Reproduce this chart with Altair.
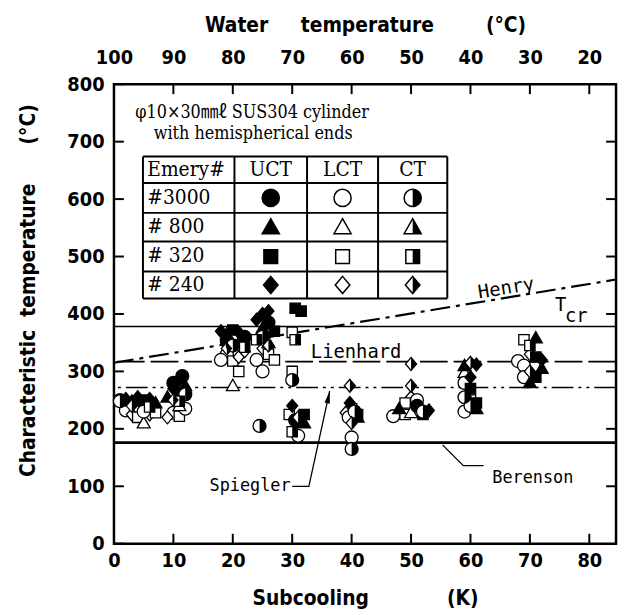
import altair as alt
import pandas as pd

# ---------------- data ----------------
# UCT (filled symbols)
uct_sc = [1, 2, 3, 4, 5, 6, 7, 10, 11, 10, 12, 11, 9, 11.5,
          18, 19, 20, 21, 22, 19, 21, 25, 26, 24, 26, 25, 27,
          30.5, 31.5, 30, 30.5, 32, 32, 39.7, 41, 41,
          48, 51, 52, 53, 59, 61, 60, 60, 61, 61,
          71, 71, 72, 70, 71, 72]
uct_t = [250, 252, 248, 255, 250, 252, 245, 280, 285, 270, 275, 262, 255, 292,
         370, 365, 372, 368, 360, 352, 350, 400, 405, 390, 385, 375, 370,
         410, 405, 240, 215, 210, 225, 245, 225, 220,
         235, 240, 225, 232, 310, 312, 290, 270, 245, 235,
         358, 325, 305, 280, 290, 320]
uct_em = ["3000", "240", "800", "240", "320", "240", "800", "3000", "240", "240", "800", "320", "800", "3000",
          "240", "800", "320", "240", "3000", "3000", "800", "240", "240", "240", "3000", "800", "320",
          "320", "320", "240", "3000", "800", "320", "240", "320", "800",
          "800", "3000", "320", "240", "800", "240", "240", "320", "320", "800",
          "800", "320", "800", "800", "320", "240"]

# LCT (open symbols)
lct_sc = [2, 3, 4, 5, 6, 5, 7, 10, 11, 12, 9, 11,
          19, 20, 20, 21, 18, 22, 21, 25, 24, 26, 25, 27, 26,
          30, 30, 29.5, 31, 40, 39, 39.5, 40,
          50, 49, 47, 49, 50, 51, 59, 59, 60, 59,
          69, 70, 68, 69, 69]
lct_t = [232, 225, 220, 210, 225, 230, 228, 228, 222, 235, 220, 240,
         330, 318, 275, 325, 320, 335, 300, 340, 320, 330, 300, 320, 350,
         368, 300, 225, 188, 235, 228, 220, 185,
         255, 245, 222, 225, 228, 250, 298, 280, 250, 230,
         355, 330, 318, 310, 290]
lct_em = ["3000", "240", "320", "800", "240", "3000", "320", "3000", "320", "3000", "240", "800",
          "3000", "320", "800", "240", "3000", "240", "320", "240", "3000", "320", "3000", "320", "800",
          "320", "320", "320", "3000", "320", "240", "3000", "3000",
          "240", "320", "3000", "320", "800", "3000", "800", "3000", "320", "3000",
          "320", "240", "3000", "3000", "3000"]

# CT (half-filled symbols)
ct_sc = [1, 3, 6, 10, 12, 11, 19, 20, 22, 25, 26, 24, 24.5,
         30.5, 30, 31, 30, 39.7, 40.5, 40, 40, 50, 50, 52, 60, 59, 60, 70, 70]
ct_t = [248, 240, 238, 250, 260, 248, 340, 345, 342, 360, 345, 355, 205,
        355, 285, 220, 195, 275, 230, 210, 165, 313, 275, 230, 315, 255, 240, 345, 300]
ct_em = ["3000", "240", "320", "240", "3000", "320", "240", "3000", "320", "3000", "240", "320", "3000",
         "320", "3000", "240", "320", "240", "3000", "240", "3000", "240", "240", "3000", "240", "3000", "3000",
         "320", "240"]

# correlation lines
tcr_t = 378
lienhard_t = 317
spiegler_t = 272
berenson_t = 176
henry_sc = [0, 84.5]
henry_t = [315, 460]

# axes ticks
x_ticks = list(range(0, 81, 10))
y_ticks = list(range(0, 801, 100))
y_ticks_right = list(range(100, 701, 100))

# legend table content
emery_keys = ["3000", "800", "320", "240"]
emery_labels = ["#3000", "# 800", "# 320", "# 240"]
modes = ["UCT", "LCT", "CT"]

# ---------------- build ----------------
rows = []
for mode, scs, ts, ems in [("LCT", lct_sc, lct_t, lct_em), ("UCT", uct_sc, uct_t, uct_em), ("CT", ct_sc, ct_t, ct_em)]:
    for s, t, e in zip(scs, ts, ems):
        rows.append({"sc": s, "t": t, "emery": e, "mode": mode})
pts = pd.DataFrame(rows)

SANS = "DejaVu Sans Condensed, DejaVu Sans, sans-serif"
MONO = "DejaVu Sans Mono, monospace"
SERIF = "DejaVu Serif Condensed, DejaVu Serif, Noto Sans CJK JP, serif"
NB = "\u00a0"

X = alt.Scale(domain=[0, 84.5], nice=False, zero=False)
Y = alt.Scale(domain=[0, 800], nice=False, zero=False)

FULL = ["M-1,0A1,1,0,1,1,1,0A1,1,0,1,1,-1,0Z",
        "M0,-1L1,0.75L-1,0.75Z",
        "M-0.8,-0.8L0.8,-0.8L0.8,0.8L-0.8,0.8Z",
        "M0,-1L0.85,0L0,1L-0.85,0Z"]
HALF = ["M0,-1A1,1,0,0,1,0,1Z",
        "M0,-1L1,0.75L0,0.75Z",
        "M0,-0.8L0.8,-0.8L0.8,0.8L0,0.8Z",
        "M0,-1L0.85,0L0,1Z"]
shape_full = alt.Shape("emery:N", scale=alt.Scale(domain=emery_keys, range=FULL), legend=None)
shape_half = alt.Shape("emery:N", scale=alt.Scale(domain=emery_keys, range=HALF), legend=None)
fill_mode = alt.Fill("mode:N", scale=alt.Scale(domain=modes, range=["black", "white", "white"]), legend=None)

axis_common = dict(ticks=False, domain=False, grid=False, labelFont=SANS, labelFontSize=20,
                   labelFontWeight="bold", labelColor="black", labelFlush=False, labelOverlap=False,
                   titleFont=SANS, titleFontSize=21, titleFontWeight="bold", titleColor="black")

x_bottom = alt.Axis(orient="bottom", values=x_ticks, labelPadding=7,
                    title="Subcooling" + NB * 12 + "(K)", titleY=55, titleBaseline="middle", **axis_common)
x_top = alt.Axis(orient="top", values=x_ticks, labelPadding=21, labelBaseline="alphabetic",
                 labelExpr="'' + (100 - datum.value)",
                 title="Water" + NB * 5 + "temperature" + NB * 8 + "(°C)", titleY=-59,
                 titleBaseline="middle", **axis_common)
y_left = alt.Axis(orient="left", values=y_ticks, labelPadding=10,
                  title="Characteristic" + NB * 2 + "temperature" + NB * 6 + "(°C)",
                  titleAngle=270, titleX=-86, titleY=208, titleBaseline="middle", titleAlign="center",
                  **axis_common)

def xq(field, axis=None):
    return alt.X(field, type="quantitative", scale=X, axis=axis)

def yq(field, axis=None):
    return alt.Y(field, type="quantitative", scale=Y, axis=axis)

layers = []

# horizontal correlation lines
def hline(val, width, dash=None):
    kw = dict(color="black", strokeWidth=width)
    if dash:
        kw["strokeDash"] = dash
    return alt.Chart(pd.DataFrame({"t": [val]})).mark_rule(**kw).encode(y=yq("t"))

layers.append(hline(tcr_t, 1.5))
layers.append(hline(lienhard_t, 1.8, [28, 6]))
layers.append(hline(spiegler_t, 1.5, [22, 5, 3, 5, 3, 5]))
layers.append(hline(berenson_t, 3))
layers.append(alt.Chart(pd.DataFrame({"sc": henry_sc, "t": henry_t})).mark_line(
    color="black", strokeWidth=2.2, strokeDash=[20, 6, 4, 6]).encode(x=xq("sc"), y=yq("t")))

# leader lines
spg = pd.DataFrame({"sc": [30, 32.8, 36.3], "t": [100, 100, 265.5], "o": [0, 1, 2]})
layers.append(alt.Chart(spg).mark_line(color="black", strokeWidth=1.3).encode(
    x=xq("sc"), y=yq("t"), order="o:Q"))
layers.append(alt.Chart(pd.DataFrame({"sc": [36.1], "t": [255]})).mark_point(
    shape="M0,-1L0.45,1L-0.45,1Z", size=150, filled=True, color="black", opacity=1, angle=12).encode(
    x=xq("sc"), y=yq("t")))
ber = pd.DataFrame({"sc": [55.3, 58.8, 62.2], "t": [172, 136, 136], "o": [0, 1, 2]})
layers.append(alt.Chart(ber).mark_line(color="black", strokeWidth=1.3).encode(
    x=xq("sc"), y=yq("t"), order="o:Q"))

# annotation texts
def txt(s, sc, t, size, font=MONO, angle=0, align="center", weight="normal"):
    kw = dict(font=font, fontSize=size, color="black", align=align, baseline="middle", fontWeight=weight)
    if angle:
        kw["angle"] = angle
    return alt.Chart(pd.DataFrame({"sc": [sc], "t": [t], "s": [s]})).mark_text(**kw).encode(
        x=xq("sc"), y=yq("t"), text="s:N")

layers.append(txt("Henry", 66, 445, 19, angle=351))
layers.append(txt("T", 75.2, 415, 19))
layers.append(txt("cr", 77.8, 396, 19))
layers.append(txt("Lienhard", 40.75, 334.5, 19))
layers.append(txt("Spiegler", 22.9, 100, 17))
layers.append(txt("Berenson", 70.5, 114, 17))
layers.append(txt("φ10×30㎜ℓ SUS304 cylinder", 3.6, 750, 18, font=SERIF, align="left"))
layers.append(txt("with hemispherical ends", 6.7, 714, 18, font=SERIF, align="left"))

# legend table
tbl_cols = [4.88, 20.28, 32.5, 44.45, 56.1]
tbl_rows = [674, 628, 576, 526, 474, 427]
layers.append(alt.Chart(pd.DataFrame({"x": [tbl_cols[0]], "x2": [tbl_cols[-1]], "y": [tbl_rows[0]], "y2": [tbl_rows[-1]]}))
              .mark_rect(fill="white").encode(x=xq("x"), x2="x2", y=yq("y"), y2="y2"))
layers.append(alt.Chart(pd.DataFrame({"y": tbl_rows, "x": tbl_cols[0], "x2": tbl_cols[-1]}))
              .mark_rule(color="black", strokeWidth=2).encode(x=xq("x"), x2="x2", y=yq("y")))
layers.append(alt.Chart(pd.DataFrame({"x": tbl_cols, "y": tbl_rows[-1], "y2": tbl_rows[0]}))
              .mark_rule(color="black", strokeWidth=2).encode(x=xq("x"), y=yq("y"), y2="y2"))
col_c = [(tbl_cols[i] + tbl_cols[i + 1]) / 2 for i in range(1, 4)]
row_c = [(tbl_rows[i] + tbl_rows[i + 1]) / 2 for i in range(5)]
layers.append(alt.Chart(pd.DataFrame({"sc": [5.6], "t": [row_c[0]], "s": ["Emery#"]}))
              .mark_text(font=SERIF, fontSize=21, align="left", baseline="middle", color="black")
              .encode(x=xq("sc"), y=yq("t"), text="s:N"))
layers.append(alt.Chart(pd.DataFrame({"sc": col_c, "t": row_c[0], "s": modes}))
              .mark_text(font=SERIF, fontSize=21, align="center", baseline="middle", color="black")
              .encode(x=xq("sc"), y=yq("t"), text="s:N"))
layers.append(alt.Chart(pd.DataFrame({"sc": 5.6, "t": row_c[1:], "s": emery_labels}))
              .mark_text(font=SERIF, fontSize=21, align="left", baseline="middle", color="black")
              .encode(x=xq("sc"), y=yq("t"), text="s:N"))
leg = pd.DataFrame([{"sc": col_c[j], "t": row_c[i + 1], "emery": e, "mode": m}
                    for i, e in enumerate(emery_keys) for j, m in enumerate(modes)])
layers.append(alt.Chart(leg).mark_point(filled=True, stroke="black", strokeWidth=1.5, opacity=1, size=300)
              .encode(x=xq("sc"), y=yq("t"), shape=shape_full, fill=fill_mode))
layers.append(alt.Chart(leg[leg["mode"] == "CT"]).mark_point(filled=True, color="black", opacity=1, size=300, strokeWidth=0)
              .encode(x=xq("sc"), y=yq("t"), shape=shape_half))

# data points
layers.append(alt.Chart(pts).mark_point(filled=True, stroke="black", strokeWidth=1.3, opacity=1, size=170)
              .encode(x=xq("sc", x_bottom), y=yq("t", y_left), shape=shape_full, fill=fill_mode))
layers.append(alt.Chart(pts[pts["mode"] == "CT"]).mark_point(filled=True, color="black", opacity=1, size=170, strokeWidth=0)
              .encode(x=xq("sc"), y=yq("t"), shape=shape_half))

# inward ticks
TK = 10
layers.append(alt.Chart(pd.DataFrame({"v": x_ticks})).mark_rule(color="black", strokeWidth=2)
              .encode(x=xq("v", x_top), y=alt.value(0), y2=alt.value(TK)))
layers.append(alt.Chart(pd.DataFrame({"v": x_ticks})).mark_rule(color="black", strokeWidth=2)
              .encode(x=xq("v"), y=alt.value(464), y2=alt.value(464 - TK)))
layers.append(alt.Chart(pd.DataFrame({"v": y_ticks})).mark_rule(color="black", strokeWidth=2)
              .encode(y=yq("v"), x=alt.value(0), x2=alt.value(TK)))
layers.append(alt.Chart(pd.DataFrame({"v": y_ticks_right})).mark_rule(color="black", strokeWidth=2)
              .encode(y=yq("v"), x=alt.value(507), x2=alt.value(507 - TK)))

chart = alt.layer(*layers).resolve_axis(x="independent", y="independent").resolve_scale(
    shape="independent", fill="independent"
).properties(
    width=507, height=464,
    autosize=alt.AutoSizeParams(type="none"),
    padding={"left": 107, "top": 74, "right": 4, "bottom": 66},
    background="white",
).configure_view(stroke="black", strokeWidth=2.5)

chart.save("out.html", embed_options={"renderer": "svg", "actions": False})
